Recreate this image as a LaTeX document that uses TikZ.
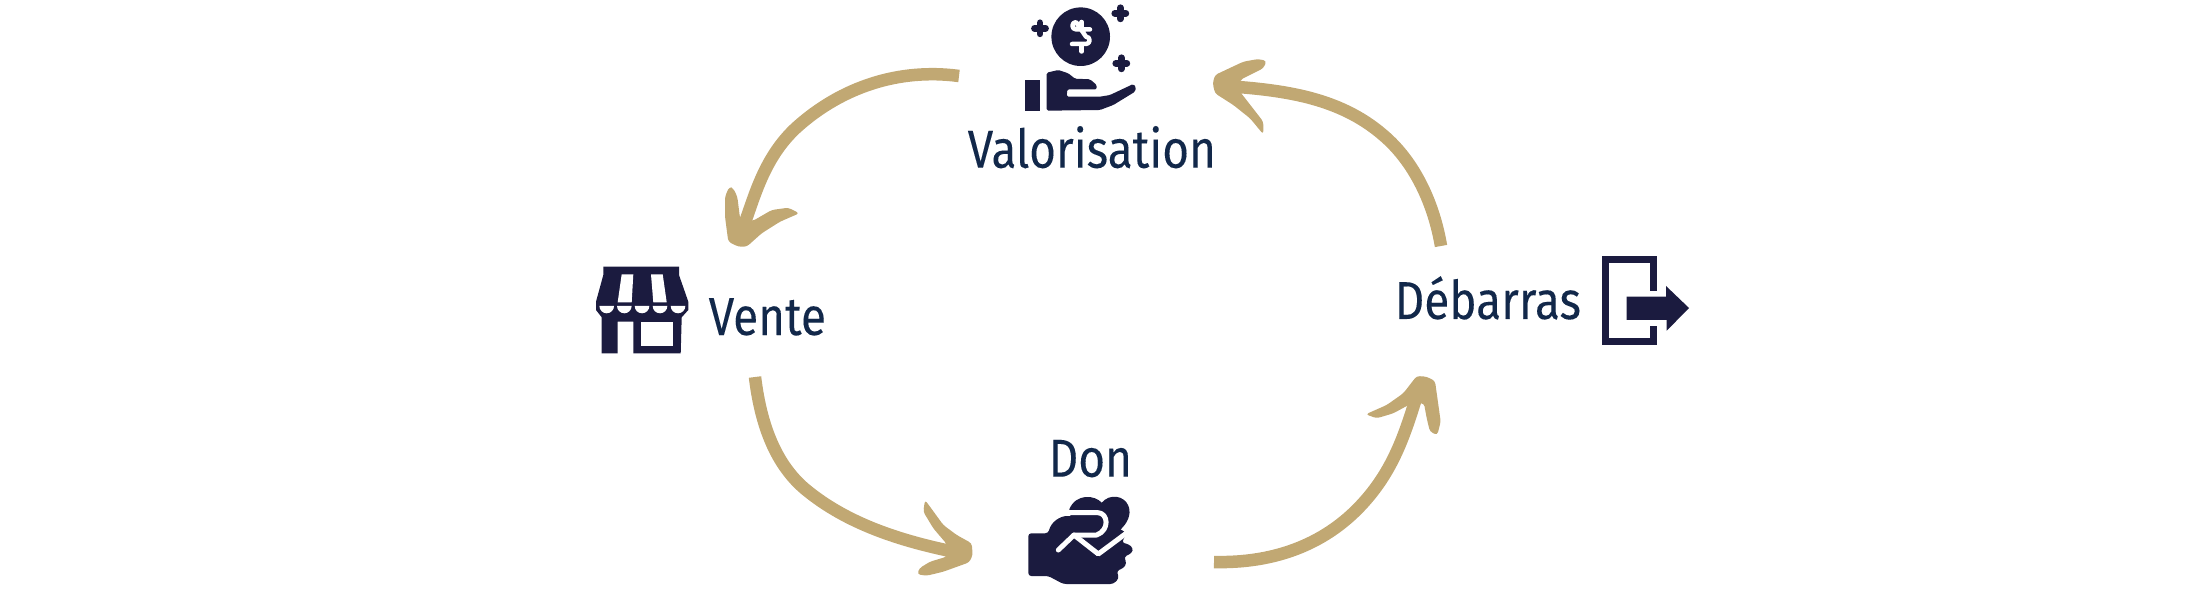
\documentclass[tikz,border=0pt]{standalone}
\usepackage{fontspec}
\setmainfont[FakeStretch=0.86,FakeBold=0.1]{Fira Sans}
\usepackage{tikz}
\usetikzlibrary{positioning}
\definecolor{gold}{HTML}{C1A873}
\definecolor{navy}{HTML}{1B1B3F}
\definecolor{labelblue}{HTML}{12284A}
\tikzstyle{label} = [text=labelblue, font=\fontsize{15.2}{18}\selectfont, inner sep=0pt, anchor=base west]
\tikzstyle{brush} = [draw=gold, line width=1.25mm, line cap=butt, line join=round]
\tikzstyle{brushhead} = [fill=gold, rounded corners=0.3mm]
\tikzstyle{icon} = [fill=navy, rounded corners=0.15mm]
\tikzstyle{softicon} = [fill=navy, rounded corners=0.3mm]
\tikzstyle{cutout} = [fill=white]
\tikzstyle{cutline} = [draw=white, line width=0.5mm, line cap=round, line join=round]
\tikzstyle{sparkle} = [draw=navy, line width=0.68mm, line cap=round]
\begin{document}
\begin{tikzpicture}[x=0.1mm, y=-0.1mm]
  \useasboundingbox (0,0) rectangle (2200,600);
  % Place nodes
  \node [label] (valorisation) at (967,167.7) {Valorisation};
  \node [label] (vente) at (708,335) {Vente};
  \node [label] (debarras) at (1394,319) {Débarras};
  \node [label] (don) at (1048,476.7) {Don};

  % arrow ends
  \coordinate (valout) at (959,76);
  \coordinate (topleft) at (797,127);
  \coordinate (ventein) at (744,225);
  \coordinate (venteout) at (755,377);
  \coordinate (botleft) at (805,489);
  \coordinate (donin) at (955,552);
  \coordinate (donout) at (1214,562);
  \coordinate (botright) at (1366.7,499);
  \coordinate (debin) at (1420,385);
  \coordinate (debout) at (1441,246);
  \coordinate (topright) at (1383,135);
  \coordinate (valin) at (1225,86);

  %paths
  \draw [brush] (valout) .. controls (899,68) and (841.7,87) .. (topleft) .. controls (764,157) and (754.5,197) .. (ventein);
  \draw [brush] (venteout) .. controls (760,419) and (773,462) .. (botleft) .. controls (847,524) and (901,541) .. (donin);
  \draw [brush] (donout) .. controls (1274,563.5) and (1327.7,544.6) .. (botright) .. controls (1396,465) and (1407,428) .. (debin);
  \draw [brush] (debout) .. controls (1434,204.4) and (1415,162) .. (topright) .. controls (1339,97) and (1283,90) .. (valin);

  %arrow heads
  \fill [brushhead] (729.3,186.7) -- (733.3,188.3) -- (737.3,196.7) -- (740,218.3) -- (752.7,221) -- (771.7,210) -- (788.3,207.7) -- (799.3,213.3) -- (780,221.7) -- (761.7,233.3) -- (746.7,246.7) -- (738.3,246.7) -- (728.3,241.7) -- (725,216.7) -- (725,196.7) -- cycle;
  \fill [brushhead] (925,500) -- (930,506.7) -- (943.3,525) -- (956.7,535) -- (971.7,543.3) -- (972.7,555) -- (969.3,562.3) -- (943.3,571.7) -- (926.7,575.7) -- (917.3,574.3) -- (919.3,568.3) -- (930,561.7) -- (946.7,556.7) -- (946.7,544) -- (933.3,528.3) -- (923.3,511.7) -- cycle;
  \fill [brushhead] (1416.7,376) -- (1426.7,376.7) -- (1435,381) -- (1440.7,421.7) -- (1437.3,435) -- (1430,431.7) -- (1426.7,418.3) -- (1424,403.3) -- (1411.7,403.3) -- (1393.3,413.3) -- (1376.7,418.3) -- (1365.7,414.3) -- (1386.7,405) -- (1403.3,393.3) -- cycle;
  \fill [brushhead] (1212.7,83.3) -- (1215,75) -- (1243.3,61.7) -- (1258.3,59) -- (1266.7,61) -- (1263.3,68.3) -- (1240,80) -- (1240,91.7) -- (1263.3,121.7) -- (1263.3,134.3) -- (1250,118.3) -- (1233.3,105) -- (1215,93.3) -- cycle;

  %coin on a hand
  \fill [navy] (1080.7,36.7) circle (29.3);
  \draw [cutline, line width=0.45mm] (1090,29.4) -- (1076,29.4) arc (90:270:3.65) -- (1086,36.7) arc (-90:90:3.65) -- (1072,44);
  \draw [cutline, line width=0.45mm] (1081.7,22) -- (1081.7,28) (1081.7,45) -- (1081.7,51.5);
  \foreach \x/\y in {1040/28.3, 1120.3/13.3, 1121.3/63.3} {
    \draw [sparkle] (\x-5.5,\y) -- (\x+5.5,\y) (\x,\y-5.5) -- (\x,\y+5.5);
  }
  \fill [navy] (1025.3,80) rectangle (1040,110.7);
  \fill [icon] (1046.7,110.7) -- (1046.7,72.7) -- (1058.3,70) -- (1068.3,73.3) -- (1075,78.7) -- (1090,79.3) -- (1096.7,85) -- (1096.7,89.3) -- (1067.3,89.3) -- (1066.7,96.7) -- (1100,96.7) -- (1110,95) -- (1133.3,84) -- (1136,87.3) -- (1135,91.7) -- (1113.3,105) -- (1100,110) -- cycle;

  %shop
  \fill [navy] (603.3,266.7) -- (679,266.7) -- (679,275) -- (688.3,301.7) -- (688.3,310) -- (681.7,317.3) -- (680.7,353.3) -- (633.3,353.3) -- (633.3,321.7) -- (617.7,321.7) -- (617.7,353.3) -- (601.7,353.3) -- (601.7,317.3) -- (596,310) -- (596,301.7) -- (603.3,275) -- cycle;
  \fill [cutout] (621.7,274.3) -- (633.3,274.3) -- (631.7,302.3) -- (617.7,302.3) -- cycle;
  \fill [cutout] (651,274.3) -- (662.7,274.3) -- (666.7,302.3) -- (653.3,302.3) -- cycle;
  \foreach \x in {606.7, 624.3, 642, 660, 678} {
    \fill [cutout] (\x-7.3,306) arc (180:360:7.3 and -7.3) -- cycle;
  }
  \fill [cutout] (641.3,322) rectangle (672.7,346);

  %door with arrow
  \draw [navy, line width=0.7mm] (1653.8,291) -- (1653.8,259.5) -- (1605.8,259.5) -- (1605.8,341.7) -- (1653.8,341.7) -- (1653.8,325.7);
  \fill [navy] (1626.7,296.7) -- (1666,296.7) -- (1666,286) -- (1689,308) -- (1666.7,330.7) -- (1666.7,320) -- (1626.7,320) -- cycle;

  %heart in a hand
  \fill [navy] (1100,551.7) -- (1121.7,528.3) .. controls (1130,520) and (1131,511) .. (1128,505) .. controls (1124,496) and (1110,493) .. (1101.7,502.7) .. controls (1095,495) and (1076,493) .. (1069.3,509.3) -- (1073.3,533.3) -- cycle;
  \fill [softicon] (1028.3,533.3) -- (1048.3,533.3) .. controls (1051,522) and (1060,516) .. (1070,516) -- (1100,516) -- (1126.7,533.3) -- (1121.7,542.7) -- (1128.3,544) -- (1133.3,548.3) -- (1131.7,553.3) -- (1124,556.7) -- (1126.7,563.3) -- (1123.3,568.3) -- (1116.7,570.7) -- (1119,578.3) -- (1113.3,584) -- (1063.3,584) -- (1048.3,576) -- (1028.3,576) -- cycle;
  \draw [cutline] (1069.3,512.7) -- (1098,512.7) .. controls (1108,513) and (1110,530) .. (1096.7,535) -- (1074,535) -- (1058.3,550);
  \draw [cutline] (1074,535) -- (1098.3,554) -- (1127,532.7);
\end{tikzpicture}
\end{document}
